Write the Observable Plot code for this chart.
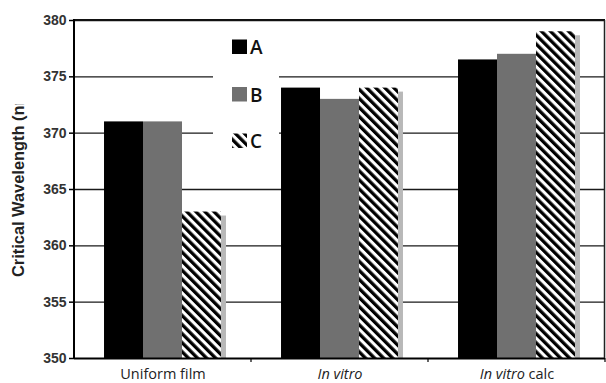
<!DOCTYPE html>
<html>
<head>
<meta charset="utf-8">
<script src="https://cdn.jsdelivr.net/npm/d3@7"></script>
<script src="https://cdn.jsdelivr.net/npm/@observablehq/plot@0.6"></script>
<style>
  html, body { margin: 0; padding: 0; background: #fff; }
  #chart svg { display: block; }
</style>
</head>
<body>
<div id="chart"></div>
<script>
// ---- data ----
const groups = ["Uniform film", "In vitro", "In vitro calc"];
const series = ["A", "B", "C"];
const valuesA = [371, 374, 376.5];
const valuesB = [371, 373, 377];
const valuesC = [363, 374, 379];
const yTicks = [350, 355, 360, 365, 370, 375, 380];
const yLabel = "Critical Wavelength (nm)";

const seriesValues = { A: valuesA, B: valuesB, C: valuesC };
const rows = groups.flatMap((g, i) => series.map(s => ({ group: g, series: s, value: seriesValues[s][i] })));
const rowsOf = s => rows.filter(d => d.series === s);
const yMin = yTicks[0], yMax = yTicks[yTicks.length - 1];

const W = 606, H = 383;
const mL = 74, mR = 1, mT = 20, mB = 25;

const plot = Plot.plot({
  width: W,
  height: H,
  marginLeft: mL,
  marginRight: mR,
  marginTop: mT,
  marginBottom: mB,
  style: { background: "#fff", fontFamily: "'Liberation Sans', Arial, sans-serif", color: "#000" },
  fx: { domain: groups, paddingInner: 0, paddingOuter: 0, axis: null, label: null },
  x: { domain: series, paddingInner: 0, paddingOuter: 0.77, axis: null, label: null, round: false },
  y: { domain: [yMin, yMax], axis: null, label: null },
  marks: [
    Plot.gridY(yTicks.slice(1), { stroke: "#1a1a1a", strokeOpacity: 1, strokeWidth: 1.4 }),
    Plot.barY(rowsOf("C"), { fx: "group", x: "series", y1: yMin, y2: "value", fill: "#b8b8b8", dx: 5, insetTop: 4 }),
    Plot.barY(rowsOf("A"), { fx: "group", x: "series", y1: yMin, y2: "value", fill: "#000" }),
    Plot.barY(rowsOf("B"), { fx: "group", x: "series", y1: yMin, y2: "value", fill: "#707070" }),
    Plot.barY(rowsOf("C"), { fx: "group", x: "series", y1: yMin, y2: "value", fill: "url(#hatch)" }),
    Plot.ruleY([yMin], { stroke: "#000", strokeWidth: 2 }),
    Plot.axisY({ ticks: yTicks, tickSize: 5, tickPadding: 3, tickFormat: d => String(d), label: null, fontSize: 14, stroke: "#000", strokeWidth: 1.5 }),
    Plot.axisFx({ anchor: "bottom", tickSize: 0, tickPadding: 10, label: null, fontSize: 14.5 })
  ]
});

document.getElementById("chart").appendChild(plot);

// ---- post-render styling ----
const svg = d3.select(plot);
const y = plot.scale("y");
const y0 = y.apply(yMin), y1 = y.apply(yMax);
const xLeft = mL, xRight = W - mR;

// hatch pattern
const defs = svg.insert("defs", ":first-child");
const pat = defs.append("pattern")
  .attr("id", "hatch").attr("patternUnits", "userSpaceOnUse")
  .attr("width", 6.4).attr("height", 6.4)
  .attr("patternTransform", "rotate(-45)");
pat.append("rect").attr("width", 6.4).attr("height", 6.4).attr("fill", "#fff");
pat.append("rect").attr("width", 3.3).attr("height", 6.4).attr("fill", "#000");
defs.append("clipPath").attr("id", "ylabclip")
  .append("rect").attr("x", 0).attr("y", 104).attr("width", 40).attr("height", 300);

// y tick labels: bold, dark grey
svg.selectAll("g[aria-label='y-axis tick label'] text")
  .style("font-weight", "bold").style("fill", "#333");

// x labels: italic "In vitro"
svg.selectAll("g[aria-label='fx-axis tick label'] text").each(function () {
  const t = this.textContent;
  const sel = d3.select(this).style("fill", "#222").style("font-family", "'Open Sans', sans-serif");
  if (t.startsWith("In vitro")) {
    sel.text(null);
    sel.append("tspan").attr("font-style", "italic").text("In vitro");
    const rest = t.slice("In vitro".length);
    if (rest) sel.append("tspan").text(rest);
  }
});

const frame = svg.append("g");
// top line
frame.append("line").attr("x1", xLeft).attr("x2", xRight).attr("y1", y1).attr("y2", y1)
  .attr("stroke", "#111").attr("stroke-width", 2);
// right border
frame.append("line").attr("x1", xRight - 0.5).attr("x2", xRight - 0.5).attr("y1", y1).attr("y2", y0)
  .attr("stroke", "#222").attr("stroke-width", 1.5);
// left axis line
frame.append("line").attr("x1", xLeft).attr("x2", xLeft).attr("y1", y1 - 1).attr("y2", y0 + 1)
  .attr("stroke", "#000").attr("stroke-width", 2);
// group boundary ticks on the bottom axis
const step = (xRight - xLeft) / groups.length;
for (let i = 1; i <= groups.length; i++) {
  frame.append("line").attr("x1", xLeft + i * step).attr("x2", xLeft + i * step)
    .attr("y1", y0).attr("y2", y0 + 4).attr("stroke", "#000").attr("stroke-width", 1.2);
}

// y-axis title (clipped as in the original)
svg.append("g").attr("clip-path", "url(#ylabclip)")
  .append("text")
  .attr("transform", `translate(24, 277) rotate(-90)`)
  .attr("text-anchor", "start")
  .attr("font-family", "'Liberation Sans', Arial, sans-serif")
  .attr("font-weight", "bold")
  .attr("font-size", 16.4)
  .attr("fill", "#222")
  .text(yLabel);

// legend
const leg = svg.append("g").attr("text-anchor", "start");
leg.append("rect").attr("x", 213).attr("y", 26).attr("width", 66).attr("height", 140).attr("fill", "#fff");
const legFill = { A: "#000", B: "#707070", C: "url(#hatch)" };
const legY = [39.5, 87, 133.5];
series.forEach((s, i) => {
  leg.append("rect").attr("x", 232).attr("y", legY[i]).attr("width", 15).attr("height", 14.5).attr("fill", legFill[s]);
  leg.append("text").attr("x", 250).attr("y", legY[i] + 14.5)
    .attr("text-anchor", "start")
    .attr("font-family", "'Open Sans', sans-serif").attr("font-size", 19).attr("fill", "#111")
    .style("font-weight", "600")
    .text(s);
});
</script>
</body>
</html>
